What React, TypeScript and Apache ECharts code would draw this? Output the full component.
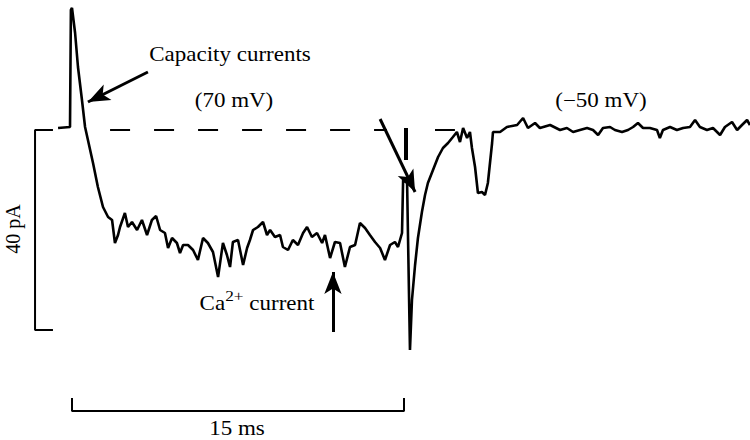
import React, { useEffect, useRef } from "react";
import * as echarts from "echarts";

// Recorded membrane current trace (time in ms, current in pA; 0 pA = holding baseline)
const traceTime = [
  -0.63, -0.09, -0.05, 0, 0.14, 0.27, 0.45, 0.59, 0.72, 0.95, 1.17, 1.4, 1.63, 1.81, 1.94, 2.08, 2.17,
  2.39, 2.53, 2.71, 2.94, 3.16, 3.39, 3.61, 3.8, 3.98, 4.2, 4.34, 4.52, 4.74, 4.88, 5.02, 5.24, 5.47,
  5.69, 5.92, 6.14, 6.37, 6.6, 6.82, 7.0, 7.14, 7.27, 7.5, 7.73, 7.91, 8.04, 8.18, 8.4, 8.63, 8.81,
  8.95, 9.17, 9.4, 9.53, 9.76, 9.98, 10.21, 10.44, 10.62, 10.84, 11.07, 11.3, 11.43, 11.66, 11.88,
  12.11, 12.33, 12.56, 12.79, 13.01, 13.24, 13.46, 13.69, 13.92, 14.14, 14.37, 14.59, 14.73, 14.91,
  14.96, 15.14, 15.23, 15.27, 15.36, 15.5, 15.63, 15.81, 15.95, 16.08, 16.31, 16.54, 16.76, 16.99,
  17.21, 17.39, 17.53, 17.67, 17.85, 17.98, 18.07, 18.21, 18.34, 18.52, 18.66, 18.79, 18.98, 19.02,
  19.34, 19.65, 20.11, 20.38, 20.6, 20.92, 21.14, 21.6, 22.05, 22.36, 22.64, 22.95, 23.27, 23.54,
  23.77, 23.99, 24.31, 24.53, 24.85, 25.12, 25.35, 25.57, 25.8, 26.11, 26.43, 26.56, 26.7, 27.02,
  27.33, 27.61, 27.92, 28.15, 28.37, 28.69, 28.96, 29.28, 29.5, 29.82, 30.05, 30.27, 30.5, 30.63,
];
const traceCurrent = [
  0.4, 0.6, 24, 24.4, 19.4, 12.6, 6, 0.6, -2, -6.6, -11.4, -15.4, -17.4, -18, -22.6, -21, -19.4,
  -16.6, -19.4, -18.4, -20, -18, -21, -18, -17.2, -20, -20.6, -23.6, -21.6, -22.6, -24.6, -23, -23, -24,
  -26, -21.6, -22.6, -24.4, -29.4, -22.6, -25, -27.4, -22.4, -22, -27, -23.6, -22, -20, -19.4, -18.4, -21,
  -20, -21.4, -21, -23.4, -24, -22, -23, -20.6, -19.4, -21.4, -20.6, -22.6, -21, -25.6, -22.4,
  -22.6, -27.4, -23.4, -23, -18.6, -19.6, -21, -22.4, -23.6, -26, -23, -22.4, -23.4, -20.6,
  -10, -10.6, -34, -44, -34, -27, -21.6, -16.4, -13, -10.6, -8, -5.4, -3.6, -2.6,
  -1.4, -0.4, -2.4, 0.4, -1.6, -0.4, -3.6, -7.4, -12.6, -12.4, -13, -10.6, -2.6, -0.4,
  -0.4, 0.6, 1, 2.4, 0.4, 1.4, 0.4, 1, 0, 0.4, -0.4, 0, 0.4, 0,
  -1, 0.4, 0.6, 0, -0.4, 0, 0.6, 1.4, 0.4, 0.4, 0, -1.6, 0, 0.6,
  0, 0.4, 0.6, 2, 0.6, 0, 0.4, -1, 0.6, 1.6, 0, 1, 2, 1,
];

// Baseline (0 pA) reference segments, time in ms
const baselineDashedSpan = [1.72, 14.23];
const baselineSolidSpan = [16.4, 17.3];
// Voltage-step marker at end of pulse: time (ms), current range (pA)
const stepMarkTime = 15.09;
const stepMarkCurrent = [0.4, -6];

// Scale bars
const scaleCurrent = 40; // pA
const scaleTime = 15; // ms

// Annotation arrows: [startTime, startCurrent, endTime, endCurrent]
const arrowCapacity = [3.43, 11.6, 0.72, 5.6];
const arrowTail = [13.92, 2.2, 15.5, -12.4];
const arrowCa = [11.79, -40.4, 11.79, -28.4];

const labels = {
  capacity: "Capacity currents",
  pulse: "(70 mV)",
  holding: "(\u221250 mV)",
  ca: "current",
  scaleY: "40 pA",
  scaleX: "15 ms",
};

const PX_PER_MS = 332 / 15;
const PX_PER_PA = 5;

export default function App() {
  const ref = useRef<HTMLDivElement>(null);
  useEffect(() => {
    if (!ref.current) return;
    const chart = echarts.init(ref.current, undefined, { renderer: "svg" });
    const trace = traceTime.map((t, i) => [t, traceCurrent[i]]);
    const black = "#000";
    const font = "'Liberation Serif', 'Times New Roman', serif";
    const sx = 1.15;
    const barX = -1.67;
    const tickX = -0.86;
    const barY = -56.2;
    const tickY = -53.6;
    const arrowMark = (a: number[]) => [{ coord: [a[0], a[1]] }, { coord: [a[2], a[3]] }];
    const txt = (text: string, x: number, y: number, extra: any = {}) => ({
      type: "text",
      x,
      y,
      scaleX: sx,
      style: {
        text,
        fontFamily: font,
        fontSize: 20,
        fill: black,
        textAlign: "center",
        textVerticalAlign: "middle",
      },
      ...extra,
    });
    chart.setOption({
      animation: false,
      backgroundColor: "#fff",
      grid: { left: 0, right: 0, top: 0, bottom: 0 },
      xAxis: { type: "value", min: -72 / PX_PER_MS, max: 678 / PX_PER_MS, show: false },
      yAxis: { type: "value", min: -310 / PX_PER_PA, max: 130 / PX_PER_PA, show: false },
      series: [
        {
          type: "line",
          data: trace,
          symbol: "none",
          lineStyle: { color: black, width: 2.6 },
          z: 5,
        },
        {
          type: "line",
          data: baselineDashedSpan.map((t) => [t, 0]),
          symbol: "none",
          lineStyle: { color: black, width: 2.2, type: [20, 24] },
        },
        {
          type: "line",
          data: baselineSolidSpan.map((t) => [t, 0]),
          symbol: "none",
          lineStyle: { color: black, width: 2 },
        },
        {
          type: "line",
          data: stepMarkCurrent.map((c) => [stepMarkTime, c]),
          symbol: "none",
          lineStyle: { color: black, width: 4 },
        },
        {
          type: "line",
          data: [
            [tickX, 0],
            [barX, 0],
            [barX, -scaleCurrent],
            [tickX, -scaleCurrent],
          ],
          symbol: "none",
          lineStyle: { color: black, width: 2 },
        },
        {
          type: "line",
          data: [
            [0, tickY],
            [0, barY],
            [scaleTime, barY],
            [scaleTime, tickY],
          ],
          symbol: "none",
          lineStyle: { color: black, width: 2 },
        },
        {
          type: "line",
          data: [],
          markLine: {
            silent: true,
            symbol: ["none", "arrow"],
            symbolSize: [13, 22],
            label: { show: false },
            lineStyle: { color: black, width: 3, type: "solid" },
            itemStyle: { color: black },
            data: [arrowMark(arrowCapacity), arrowMark(arrowTail), arrowMark(arrowCa)],
          },
        },
      ],
      graphic: [
        txt(labels.capacity, 230, 55),
        txt(labels.pulse, 234, 101),
        txt(labels.holding, 601, 101),
        txt(labels.scaleX, 237, 429),
        {
          type: "text",
          x: 13,
          y: 229,
          rotation: Math.PI / 2,
          style: {
            text: labels.scaleY,
            fontFamily: font,
            fontSize: 20,
            fill: black,
            textAlign: "center",
            textVerticalAlign: "middle",
          },
        },
        {
          type: "text",
          x: 257,
          y: 301,
          scaleX: sx,
          style: {
            text: "{a|Ca}{s|2+}{a| " + labels.ca + "}",
            fontFamily: font,
            fill: black,
            textAlign: "center",
            textVerticalAlign: "middle",
            rich: {
              a: { fontFamily: font, fontSize: 20, lineHeight: 26, verticalAlign: "bottom", fill: black },
              s: { fontFamily: font, fontSize: 15, lineHeight: 26, verticalAlign: "top", fill: black },
            },
          },
        },
      ],
    });
    return () => chart.dispose();
  }, []);
  return (
    <div
      ref={ref}
      style={{ position: "absolute", left: 0, top: 0, width: 750, height: 440 }}
    />
  );
}
